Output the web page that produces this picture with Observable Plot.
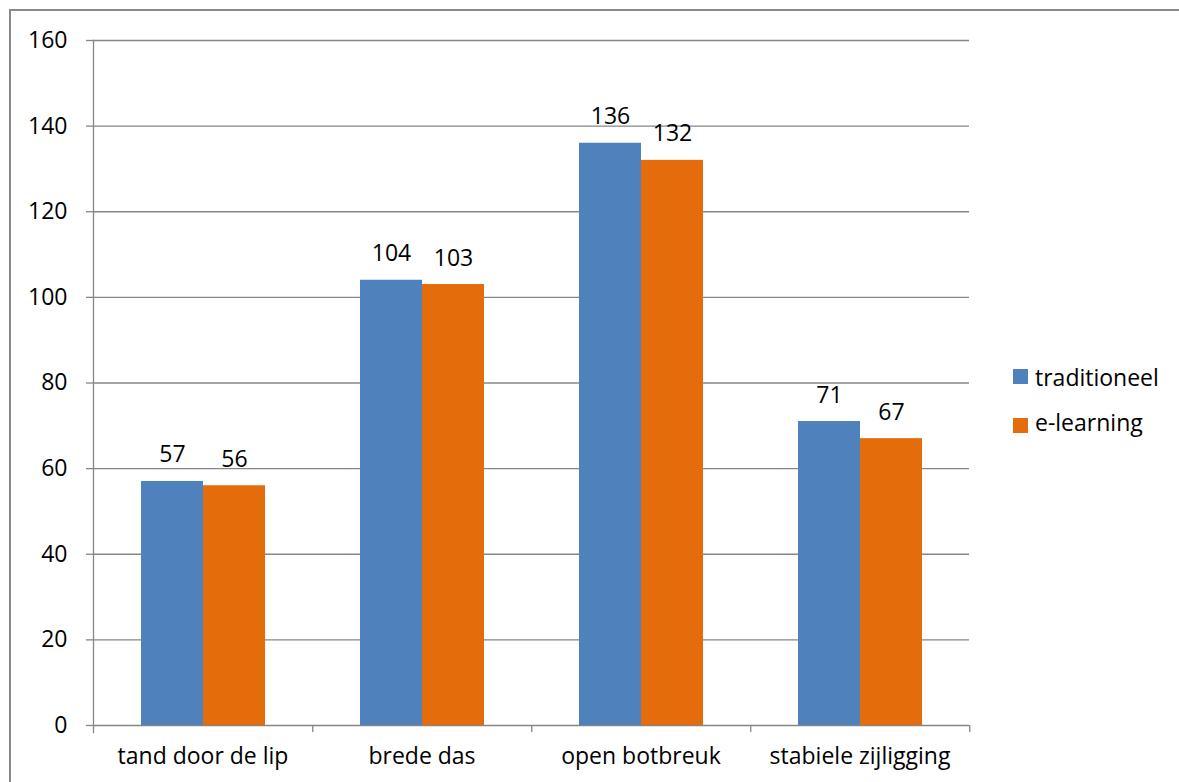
<!DOCTYPE html>
<html><head><meta charset="utf-8">
<script src="https://cdn.jsdelivr.net/npm/d3@7"></script>
<script src="https://cdn.jsdelivr.net/npm/@observablehq/plot@0.6"></script>
<style>
body{margin:0;background:#fff;font-family:"Open Sans", sans-serif;}
#wrap{position:relative;width:1179px;height:782px;overflow:hidden;background:#fff;}
#border{position:absolute;left:9px;top:9px;width:1400px;height:1000px;border:2px solid #898989;box-sizing:border-box;}
#chart{position:absolute;left:0;top:0;}
.sw{position:absolute;width:15px;height:15px;left:1013px;}
.lt{position:absolute;left:1035px;font-size:23px;color:#000;white-space:nowrap;line-height:normal;}
</style></head>
<body>
<div id="wrap">
  <div id="border"></div>
  <div id="chart"></div>
  <div id="legend"></div>
</div>
<script>
const categories = ["tand door de lip", "brede das", "open botbreuk", "stabiele zijligging"];
const series = ["traditioneel", "e-learning"];
const traditioneel = [57, 104, 136, 71];
const eLearning = [56, 103, 132, 67];
const yTicks = [0, 20, 40, 60, 80, 100, 120, 140, 160];
const colors = ["#4F81BD", "#E46C0A"];

const data = categories.flatMap((c, i) => [
  {category: c, series: series[0], value: traditioneel[i]},
  {category: c, series: series[1], value: eLearning[i]}
]);

const W = 990, H = 782, mL = 92, mR = 20, mT = 40, mB = 57;
const facetW = (W - mL - mR) / categories.length;
const grid = "#868686";
const font = "'Open Sans', sans-serif";
const fs = 23;

const chart = Plot.plot({
  width: W, height: H,
  marginLeft: mL, marginRight: mR, marginTop: mT, marginBottom: mB,
  style: {fontFamily: font, fontSize: fs + "px", color: "#000", background: "transparent", overflow: "visible"},
  fx: {domain: categories, padding: 0, label: null, axis: null},
  x: {domain: series, paddingInner: 0, paddingOuter: 0.756, axis: null},
  y: {domain: [0, 160], axis: null},
  color: {domain: series, range: colors},
  marks: [
    Plot.ruleY(yTicks, {stroke: grid, strokeWidth: 1.3}),
    Plot.barY(data, {fx: "category", x: "series", y: "value", fill: "series"}),
    Plot.text(data, {fx: "category", x: "series", y: "value", text: d => String(d.value), lineAnchor: "bottom", dy: -19, fontSize: fs, fill: "#000"}),
    Plot.axisY({ticks: yTicks, tickSize: 7, tickPadding: 19, stroke: grid, strokeWidth: 1.3, label: null, anchor: "left", fontSize: fs}),
    Plot.frame({anchor: "left", facetAnchor: "left", insetBottom: -7, stroke: grid, strokeWidth: 1.3}),
    Plot.axisFx({anchor: "bottom", tickSize: 0, tickPadding: 22, label: null, fontSize: fs}),
    Plot.axisFx({anchor: "bottom", tickSize: 7, tickFormat: () => "", label: null, dx: facetW / 2, stroke: grid, strokeWidth: 1.3})
  ]
});
document.getElementById("chart").append(chart);

const legend = document.getElementById("legend");
const swTops = [369, 418];
const txtTops = [361, 406];
series.forEach((s, i) => {
  const sw = document.createElement("div");
  sw.className = "sw"; sw.style.top = swTops[i] + "px"; sw.style.background = colors[i];
  const t = document.createElement("div");
  t.className = "lt"; t.style.top = txtTops[i] + "px"; t.textContent = s;
  legend.append(sw, t);
});
</script>
</body></html>
